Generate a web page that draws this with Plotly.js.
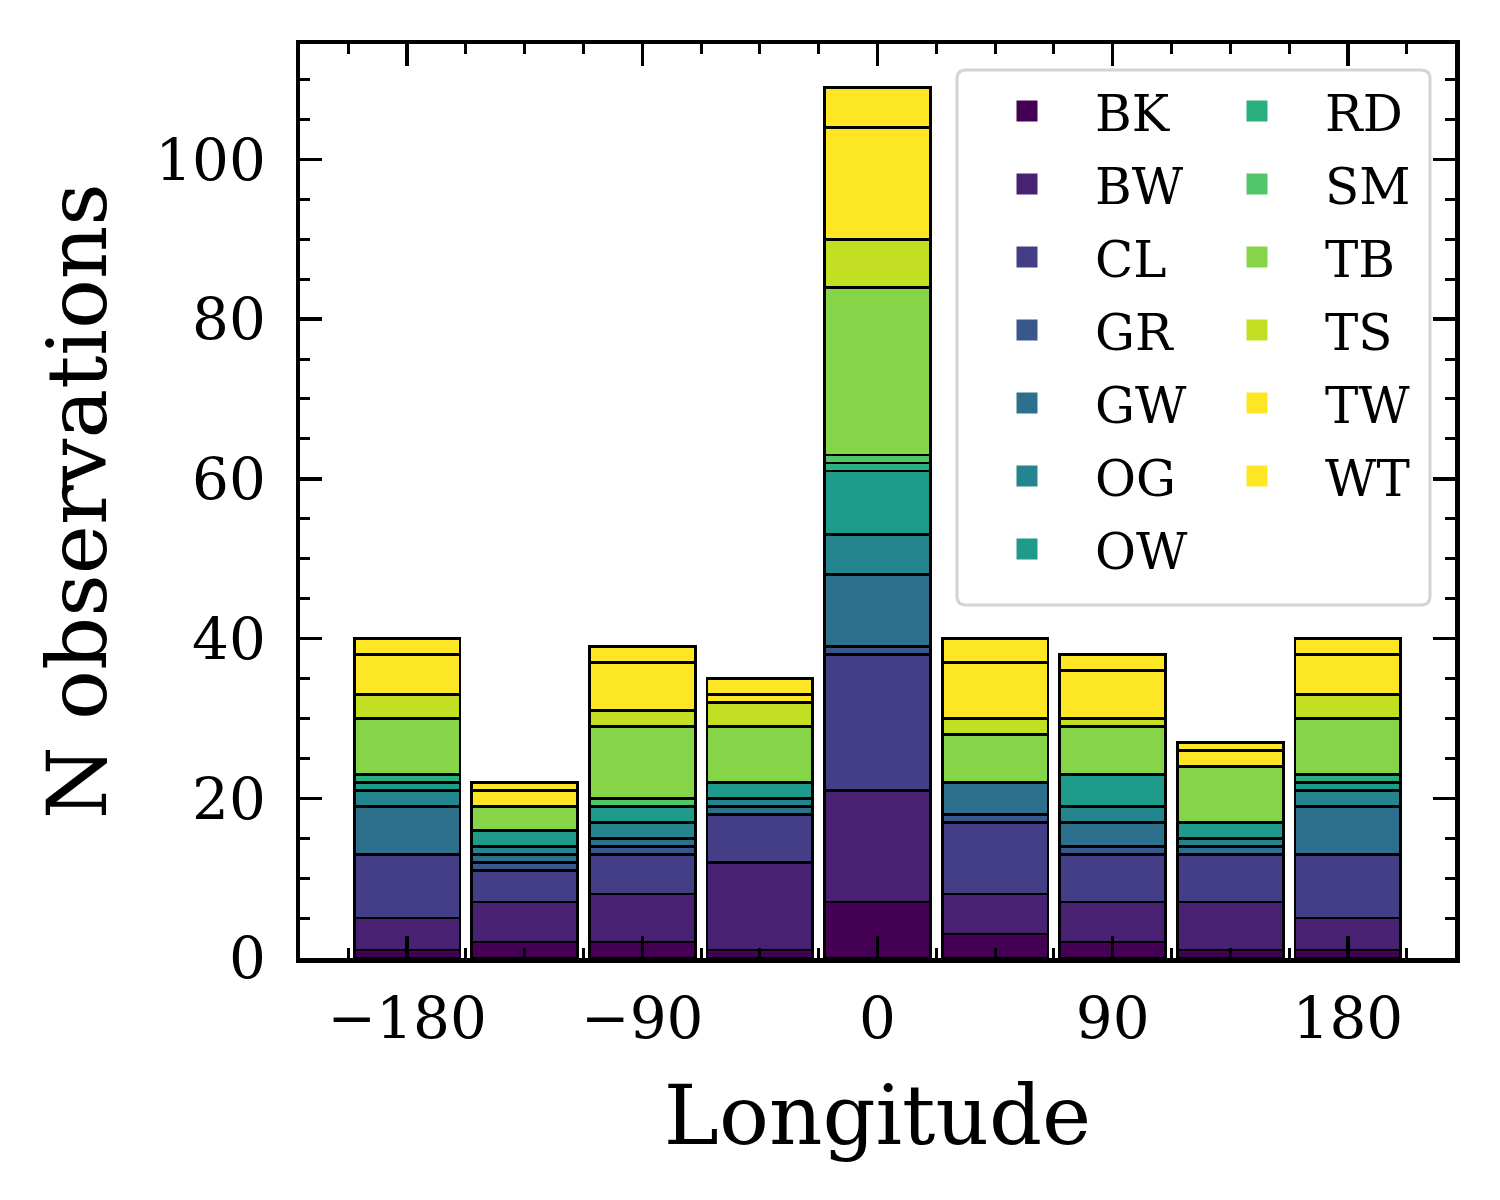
<!DOCTYPE html>
<html>
<head>
<meta charset="utf-8">
<script src="https://cdn.plot.ly/plotly-3.0.1.min.js"></script>
<style>
  body { margin: 0; background: #fff; }
  #plot { width: 1500px; height: 1200px; }
</style>
</head>
<body>
<div id="plot"></div>
<script>
// bin centres (longitude, degrees)
var longitude = [-180, -135, -90, -45, 0, 45, 90, 135, 180]

// counts per class in each bin, bottom of the stack first
var BK = [1, 2, 2, 1, 7, 3, 2, 1, 1]
var BW = [4, 5, 6, 11, 14, 5, 5, 6, 4]
var CL = [8, 4, 5, 6, 17, 9, 6, 6, 8]
var GR = [0, 1, 1, 0, 1, 1, 1, 0, 0]
var GW = [6, 1, 1, 1, 9, 4, 3, 1, 6]
var OG = [2, 1, 2, 1, 5, 0, 2, 1, 2]
var OW = [1, 2, 2, 2, 8, 0, 4, 2, 1]
var RD = [1, 0, 0, 0, 1, 0, 0, 0, 1]
var SM = [0, 0, 1, 0, 1, 0, 0, 0, 0]
var TB = [7, 3, 9, 7, 21, 6, 6, 7, 7]
var TS = [3, 0, 2, 3, 6, 2, 1, 0, 3]
var TW = [5, 2, 6, 1, 14, 7, 6, 2, 5]
var WT = [2, 1, 2, 2, 5, 3, 2, 1, 2]

var classNames = ['BK', 'BW', 'CL', 'GR', 'GW', 'OG', 'OW', 'RD', 'SM', 'TB', 'TS', 'TW', 'WT']
var classCounts = [BK, BW, CL, GR, GW, OG, OW, RD, SM, TB, TS, TW, WT]
var classColors = ['#440154', '#482173', '#433e85', '#38588c', '#2d708e', '#25858e', '#1e9b8a',
                   '#2ab07f', '#52c569', '#86d549', '#c2df23', '#fde725', '#fde725']

var fontFam = '"DejaVu Serif", "Liberation Serif", serif'

try {
  var data = []

  // stacked bars, one trace per class
  classNames.forEach(function (name, i) {
    data.push({
      type: 'bar',
      x: longitude,
      y: classCounts[i],
      width: 40.5,
      name: name,
      legendgroup: name,
      showlegend: false,
      marker: { color: classColors[i], line: { color: '#000', width: 2.7 } },
      hoverinfo: 'x+y+name'
    })
  })

  // legend entries (empty traces so the swatches have no black edge)
  classNames.forEach(function (name, i) {
    data.push({
      type: 'scatter',
      mode: 'markers',
      x: [null],
      y: [null],
      name: name,
      legendgroup: name,
      legend: i < 7 ? 'legend' : 'legend2',
      marker: { symbol: 'square', size: 16, color: classColors[i],
                line: { color: classColors[i], width: 5 } },
      showlegend: true
    })
  })

  // plot box in pixels, used for the legend frame
  var L = 300, R = 45, T = 44, B = 242, W = 1500, H = 1200
  var pw = W - L - R, ph = H - T - B
  function px(x) { return (x - L) / pw }
  function py(y) { return (H - B - y) / ph }
  var x0 = px(957), x1 = px(1430), y0 = py(605), y1 = py(70)
  var rx = 9 / pw, ry = 9 / ph
  var framePath = 'M' + (x0 + rx) + ',' + y0 + ' L' + (x1 - rx) + ',' + y0 +
    ' Q' + x1 + ',' + y0 + ' ' + x1 + ',' + (y0 + ry) +
    ' L' + x1 + ',' + (y1 - ry) + ' Q' + x1 + ',' + y1 + ' ' + (x1 - rx) + ',' + y1 +
    ' L' + (x0 + rx) + ',' + y1 + ' Q' + x0 + ',' + y1 + ' ' + x0 + ',' + (y1 - ry) +
    ' L' + x0 + ',' + (y0 + ry) + ' Q' + x0 + ',' + y0 + ' ' + (x0 + rx) + ',' + y0 + ' Z'

  var legendBase = {
    orientation: 'v',
    bgcolor: 'rgba(0,0,0,0)',
    borderwidth: 0,
    font: { family: fontFam, size: 50, color: '#000' },
    itemwidth: 126,
    itemsizing: 'trace',
    tracegroupgap: 5,
    yanchor: 'top',
    xanchor: 'left',
    y: py(72)
  }

  var axisBase = {
    showline: true,
    linecolor: '#000',
    linewidth: 4.5,
    mirror: 'allticks',
    ticks: 'inside',
    ticklen: 22,
    tickwidth: 3.5,
    tickcolor: '#000',
    showgrid: false,
    zeroline: false,
    tickfont: { family: fontFam, size: 58, color: '#000' }
  }

  var layout = {
    width: W,
    height: H,
    margin: { l: L, r: R, t: T, b: B, pad: 0 },
    paper_bgcolor: '#fff',
    plot_bgcolor: '#fff',
    barmode: 'stack',
    font: { family: fontFam, color: '#000' },
    xaxis: Object.assign({}, axisBase, {
      range: [-221, 221],
      tickmode: 'linear',
      tick0: 0,
      dtick: 90,
      ticklabelstandoff: 6,
      minor: { dtick: 22.5, ticks: 'inside', ticklen: 10, tickwidth: 3, tickcolor: '#000', showgrid: false },
      title: { text: 'Longitude', font: { family: fontFam, size: 83, color: '#000' }, standoff: 36 }
    }),
    yaxis: Object.assign({}, axisBase, {
      range: [0, 114.45],
      tickmode: 'linear',
      tick0: 0,
      dtick: 20,
      ticklabelstandoff: 18,
      minor: { dtick: 5, ticks: 'inside', ticklen: 10, tickwidth: 3, tickcolor: '#000', showgrid: false },
      title: { text: 'N observations', font: { family: fontFam, size: 83, color: '#000' }, standoff: 22 }
    }),
    legend: Object.assign({}, legendBase, { x: px(959) }),
    legend2: Object.assign({}, legendBase, { x: px(1189) }),
    shapes: [{
      type: 'path',
      xref: 'paper',
      yref: 'paper',
      path: framePath,
      fillcolor: 'rgba(255,255,255,0.85)',
      line: { color: '#d4d4d4', width: 3 },
      layer: 'above'
    }]
  }

  Plotly.newPlot('plot', data, layout, { staticPlot: true })
}
catch (err) {
  console.error(err)
}
</script>
</body>
</html>
